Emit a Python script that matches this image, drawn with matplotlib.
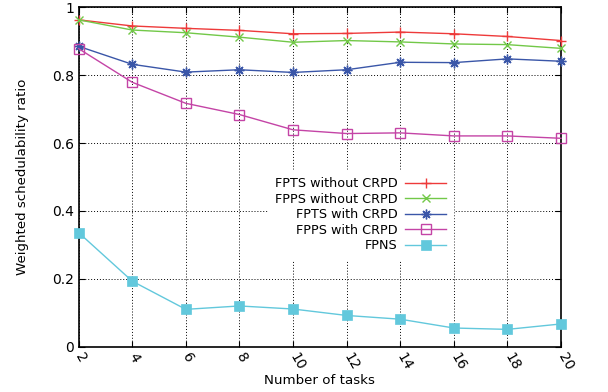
import matplotlib
matplotlib.use("Agg")
import matplotlib.pyplot as plt

# ---- data ------------------------------------------------------------------
n_tasks = [2, 4, 6, 8, 10, 12, 14, 16, 18, 20]
fpts_no_crpd = [0.963, 0.945, 0.938, 0.932, 0.922, 0.923, 0.927, 0.922, 0.914, 0.902]
fpps_no_crpd = [0.963, 0.933, 0.925, 0.912, 0.897, 0.902, 0.898, 0.892, 0.890, 0.879]
fpts_crpd = [0.885, 0.832, 0.809, 0.816, 0.808, 0.816, 0.838, 0.837, 0.848, 0.841]
fpps_crpd = [0.878, 0.779, 0.717, 0.684, 0.639, 0.628, 0.630, 0.621, 0.621, 0.614]
fpns = [0.336, 0.193, 0.110, 0.120, 0.111, 0.092, 0.081, 0.055, 0.051, 0.067]

labels = ["FPTS without CRPD", "FPPS without CRPD", "FPTS with CRPD",
          "FPPS with CRPD", "FPNS"]
yticks = [0, 0.2, 0.4, 0.6, 0.8, 1]
ytick_labels = ["0", "0.2", "0.4", "0.6", "0.8", "1"]

plt.rcParams.update({"font.family": "DejaVu Sans", "font.size": 9.6})

fig = plt.figure(figsize=(6.08, 3.92), dpi=100)
ax = fig.add_axes([0.1294, 0.1156, 0.7933, 0.8658])

styles = [
    dict(color="#ee3a3a", marker="+", ms=7, mew=1.0),
    dict(color="#72c848", marker="x", ms=6, mew=1.0),
    dict(color="#3a56a8", marker=(8, 2, 0), ms=7, mew=1.0),
    dict(color="#c444a6", marker="s", ms=6.5, mew=1.0, mfc="none"),
    dict(color="#62c8dc", marker="s", ms=7, mew=0.5),
]
series = [fpts_no_crpd, fpps_no_crpd, fpts_crpd, fpps_crpd, fpns]
for vals, lab, st in zip(series, labels, styles):
    ax.plot(n_tasks, vals, lw=1.0, label=lab, clip_on=False, zorder=3, **st)

ax.set_xlim(2, 20)
ax.set_ylim(0, 1)
ax.set_xticks(n_tasks)
ax.set_xticklabels([str(v) for v in n_tasks], rotation=-60,
                   ha="left", va="center", rotation_mode="anchor")
ax.set_yticks(yticks)
ax.set_yticklabels(ytick_labels)
ax.tick_params(direction="in", length=4, width=0.8, top=True, right=True,
               labelsize=10, colors="black")
ax.tick_params(axis="x", pad=5)
ax.grid(True, color="black", ls=(0, (1, 2)), lw=0.7)
ax.set_axisbelow(True)
for s in ax.spines.values():
    s.set_linewidth(1.2)

ax.set_xlabel("Number of tasks")
ax.set_ylabel("Weighted schedulability ratio")
ax.xaxis.set_label_coords(0.5, -0.08)
ax.yaxis.set_label_coords(-0.104, 0.5)

leg = ax.legend(loc="upper right", bbox_to_anchor=(453 / 608, 1 - 170 / 392),
                bbox_transform=fig.transFigure, markerfirst=False,
                frameon=True, fancybox=False, framealpha=1.0, edgecolor="white",
                borderpad=0.55, borderaxespad=0, handlelength=3.2,
                handletextpad=0.6, labelspacing=0.2, fontsize=9.2)
leg.set_zorder(5)

fig.savefig("out.png", dpi=100)
